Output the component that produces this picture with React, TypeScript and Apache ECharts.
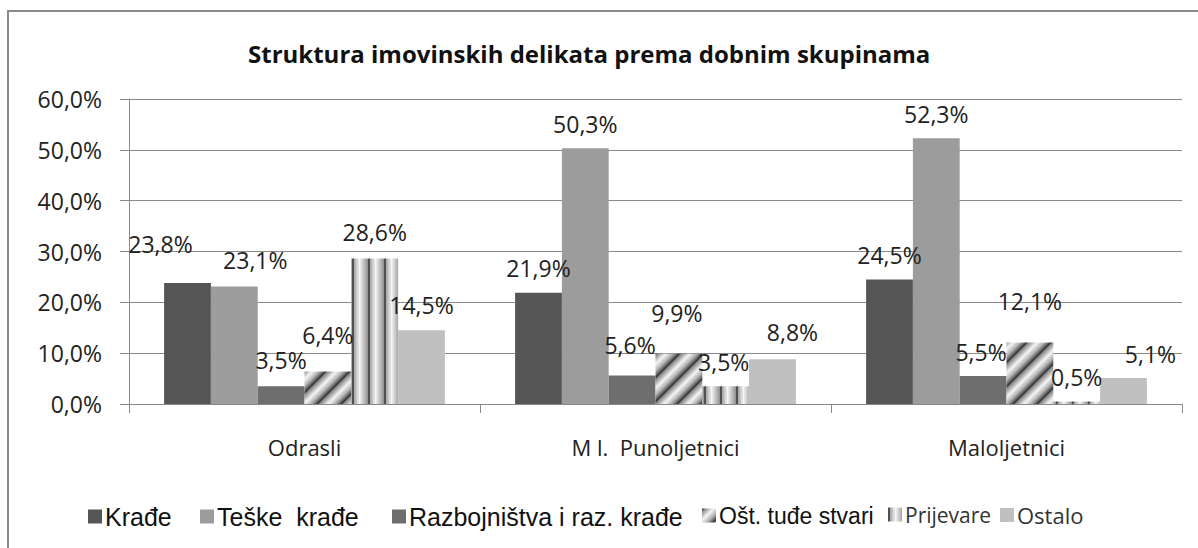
import React, { useEffect, useRef } from "react";
import * as echarts from "echarts";

const categories = ["Odrasli", "M l.  Punoljetnici", "Maloljetnici"];
const seriesNames = ["Krađe", "Teške  krađe", "Razbojništva i raz. krađe", "Ošt. tuđe stvari", "Prijevare", "Ostalo"];
const krade = [23.8, 21.9, 24.5];
const teskeKrade = [23.1, 50.3, 52.3];
const razbojnistva = [3.5, 5.6, 5.5];
const ostTudeStvari = [6.4, 9.9, 12.1];
const prijevare = [28.6, 3.5, 0.5];
const ostalo = [14.5, 8.8, 5.1];
const yTicks = [0, 10, 20, 30, 40, 50, 60];

// label nudges [dx, dy] per series per category (layout only)
const labelNudges: number[][][] = [
  [[-27, -15], [0, 0], [0, 0]],
  [[21, -2], [0, 0], [0, 0]],
  [[0, -2], [-2, -6], [-2, 0]],
  [[0, -12], [-2, -16], [0, -17]],
  [[0, -2], [-2, 0], [0, 0]],
  [[0, -1], [20, -3], [27, 0]],
];

function makeDiagonal(): HTMLCanvasElement {
  const P = 24;
  const c = document.createElement("canvas");
  c.width = P; c.height = P;
  const ctx = c.getContext("2d")!;
  const img = ctx.createImageData(P, P);
  for (let y = 0; y < P; y++) {
    for (let x = 0; x < P; x++) {
      const v = ((x + y) % P) / P;
      let g: number;
      if (v < 0.08) g = 50 + v * 12 * 60;
      else if (v < 0.45) g = 130 + ((v - 0.08) / 0.37) * 115;
      else if (v < 0.75) g = 245 - ((v - 0.45) / 0.3) * 70;
      else g = 175 - ((v - 0.75) / 0.25) * 110;
      const i = (y * P + x) * 4;
      img.data[i] = g; img.data[i + 1] = g; img.data[i + 2] = g; img.data[i + 3] = 255;
    }
  }
  ctx.putImageData(img, 0, 0);
  return c;
}

function makeVertical(): HTMLCanvasElement {
  const P = 16;
  const c = document.createElement("canvas");
  c.width = P; c.height = 4;
  const ctx = c.getContext("2d")!;
  const img = ctx.createImageData(P, 4);
  for (let y = 0; y < 4; y++) {
    for (let x = 0; x < P; x++) {
      let g: number;
      if (x < 2) g = 80;
      else if (x < 7) g = 170 + (x - 2) * 15;
      else g = 245 - (x - 7) * 12;
      const i = (y * P + x) * 4;
      img.data[i] = g; img.data[i + 1] = g; img.data[i + 2] = g; img.data[i + 3] = 255;
    }
  }
  ctx.putImageData(img, 0, 0);
  return c;
}

const fmt = (v: number) => v.toFixed(1).replace(".", ",") + "%";

export default function App() {
  const ref = useRef<HTMLDivElement>(null);
  useEffect(() => {
    document.body.style.margin = "0";
    const chart = echarts.init(ref.current!, undefined, { renderer: "svg" });
    const diag = makeDiagonal();
    const vert = makeVertical();
    const colors: any[] = [
      "#555555",
      "#9c9c9c",
      "#6e6e6e",
      { image: diag, repeat: "repeat" },
      { image: vert, repeat: "repeat" },
      "#c0c0c0",
    ];
    const values = [krade, teskeKrade, razbojnistva, ostTudeStvari, prijevare, ostalo];
    const font = "'Open Sans', sans-serif";
    const arial = "'Liberation Sans', Arial, sans-serif";
    const legendLefts = [83, 195, 387, 697, 883, 995];
    const legendFonts = [arial, arial, arial, arial, font, font];
    const legendSizes = [25, 25, 25, 23, 21, 22];
    const legendColors = ["#111", "#111", "#111", "#111", "#333", "#333"];
    chart.setOption({
      animation: false,
      backgroundColor: "#fff",
      title: {
        text: "Struktura imovinskih delikata prema dobnim skupinama",
        left: 243,
        top: 36,
        textStyle: { fontFamily: font, fontWeight: "bold", fontSize: 24, color: "#111" },
      },
      legend: seriesNames.map((n, i) => ({
        data: [n],
        left: legendLefts[i],
        top: 499,
        itemWidth: 14,
        itemHeight: 14,
        icon: "rect",
        itemGap: 0,
        textStyle: { fontFamily: legendFonts[i], fontSize: legendSizes[i], color: legendColors[i], padding: [0, 0, 0, -2] },
      })),
      grid: { left: 129, right: 16, top: 99, bottom: 144 },
      xAxis: {
        type: "category",
        data: categories,
        axisLine: { lineStyle: { color: "#8a8a8a", width: 1 } },
        axisTick: { show: true, length: 9, lineStyle: { color: "#8a8a8a" } },
        axisLabel: { fontFamily: font, fontSize: 22, color: "#222", margin: 32 },
      },
      yAxis: {
        type: "value",
        min: 0,
        max: 60,
        interval: 10,
        axisLine: { show: true, lineStyle: { color: "#8a8a8a" } },
        axisTick: { show: true, length: 9, lineStyle: { color: "#8a8a8a" } },
        splitLine: { lineStyle: { color: "#8a8a8a", width: 1 } },
        axisLabel: {
          fontFamily: font, fontSize: 23, color: "#222", margin: 27,
          formatter: (v: number) => (yTicks.includes(v) ? fmt(v) : ""),
        },
      },
      graphic: [
        {
          type: "rect",
          shape: { x: 8, y: 11, width: 1220, height: 580 },
          style: { fill: "none", stroke: "#8a8a8a", lineWidth: 2 },
          silent: true,
          z: 100,
        },
      ],
      series: values.map((vals, si) => ({
        name: seriesNames[si],
        type: "bar",
        barGap: "0%",
        barCategoryGap: "20%",
        itemStyle: { color: colors[si] },
        label: {
          show: true,
          position: "top",
          distance: 13,
          fontFamily: font,
          fontSize: 23,
          color: "#222",
          formatter: (p: any) => fmt(p.value),
        },
        data: vals.map((v, ci) => ({
          value: v,
          label: { offset: labelNudges[si][ci] },
        })),
      })),
    });
    return () => chart.dispose();
  }, []);
  return <div ref={ref} style={{ width: 1198, height: 548 }} />;
}
